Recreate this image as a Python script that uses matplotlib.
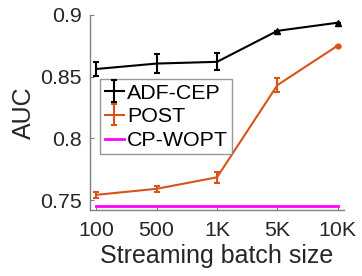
import matplotlib
matplotlib.use("Agg")
import matplotlib.pyplot as plt

plt.rcParams['font.family'] = ['Liberation Sans', 'DejaVu Sans']

# data
batch_labels = ["100", "500", "1K", "5K", "10K"]
adf_cep = [0.8562, 0.8606, 0.8620, 0.8871, 0.8937]
adf_cep_err = [0.0058, 0.0075, 0.0068, 0.0, 0.0]
post = [0.7543, 0.7592, 0.7685, 0.8432, 0.8752]
post_err = [0.0025, 0.0025, 0.0045, 0.0055, 0.0]
cp_wopt = [0.7454, 0.7454, 0.7454, 0.7454, 0.7454]

x = list(range(1, len(batch_labels) + 1))

fig = plt.figure(figsize=(3.62, 2.76), dpi=100)
ax = fig.add_axes([0.249, 0.239, 0.701, 0.707])

h1 = ax.errorbar(x, adf_cep, yerr=adf_cep_err, color='black', lw=1.5,
                 capsize=2.5, elinewidth=1.5, capthick=1.5)
h2 = ax.errorbar(x, post, yerr=post_err, color='#D95319', lw=1.5,
                 capsize=2.5, elinewidth=1.5, capthick=1.5)
h3, = ax.plot(x, cp_wopt, color='#FF00FF', lw=2)
# points without visible error bars
ax.plot(x[3:], adf_cep[3:], '^', color='black', ms=4.5)
ax.plot(x[4:], post[4:], 'o', color='#D95319', ms=3.5)

ax.set_xlim(0.9, 5.1)
ax.set_ylim(0.742, 0.9)
ax.set_xticks(x)
ax.set_xticklabels(batch_labels)
ax.set_yticks([0.75, 0.8, 0.85, 0.9])
ax.set_yticklabels(["0.75", "0.8", "0.85", "0.9"])

ax.spines['top'].set_visible(False)
ax.spines['right'].set_visible(False)
for s in ['left', 'bottom']:
    ax.spines[s].set_color('#808080')
    ax.spines[s].set_linewidth(1)
ax.tick_params(direction='in', length=3, color='#808080',
               labelsize=15.4, labelcolor='#262626')
ax.tick_params(axis='x', pad=8)
ax.tick_params(axis='y', pad=6)

ax.set_xlabel("Streaming batch size", fontsize=18, color='#262626', labelpad=3)
ax.set_ylabel("AUC", fontsize=18, color='#262626', labelpad=3)

leg = ax.legend([h1, h2, h3], ['ADF-CEP', 'POST', 'CP-WOPT'],
                loc='upper left', bbox_to_anchor=(0.04, 0.67), fontsize=15.4,
                frameon=True, fancybox=False, handlelength=0.9,
                handletextpad=0.15, borderpad=0.2, labelspacing=0.22,
                borderaxespad=0)
leg.get_frame().set_edgecolor('#7f7f7f')
leg.get_frame().set_linewidth(1)

fig.savefig("out.png", dpi=100)
